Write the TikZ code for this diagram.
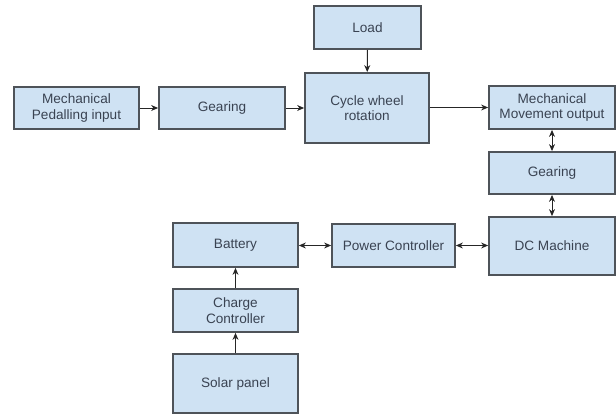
\documentclass[tikz,border=0pt]{standalone}
\usepackage{fontspec}
\setmainfont{Liberation Sans}
\usetikzlibrary{arrows.meta}
\definecolor{boxfill}{HTML}{CFE2F3}
\definecolor{boxline}{HTML}{4E5359}
\definecolor{boxtext}{HTML}{3A4352}
\begin{document}
\begin{tikzpicture}[x=1pt,y=-1pt,
  blk/.style={draw=boxline,line width=1.8pt,fill=boxfill,text=boxtext,
    align=center,inner sep=0pt,font=\fontsize{13.6}{15.5}\selectfont},
  conn/.style={line width=1pt,draw=black!85,-{Stealth[length=7pt,width=6pt]}},
  dconn/.style={line width=1pt,draw=black!85,{Stealth[length=7pt,width=6pt]}-{Stealth[length=7pt,width=6pt]}}]
\useasboundingbox (0,0) rectangle (616,415);
\node[blk,minimum width=125pt,minimum height=42pt] (pedal) at (76.5,108) {Mechanical\\Pedalling input};
\node[blk,minimum width=126pt,minimum height=42pt] (gear1) at (222,108) {Gearing};
\node[blk,minimum width=107pt,minimum height=43pt] (load) at (367.5,27.5) {Load};
\node[blk,minimum width=124pt,minimum height=70pt] (cycle) at (367,108) {Cycle wheel\\rotation};
\node[blk,minimum width=126pt,minimum height=43pt] (mech) at (552,107.5) {Mechanical\\Movement output};
\node[blk,minimum width=126pt,minimum height=42pt] (gear2) at (552,173) {Gearing};
\node[blk,minimum width=126pt,minimum height=58pt] (dc) at (552,246) {DC Machine};
\node[blk,minimum width=123pt,minimum height=43pt] (pc) at (393.5,245.5) {Power Controller};
\node[blk,minimum width=125pt,minimum height=44pt] (batt) at (235.5,245) {Battery};
\node[blk,minimum width=125pt,minimum height=43pt] (charge) at (235.5,310.5) {Charge\\Controller};
\node[blk,minimum width=125pt,minimum height=59pt] (solar) at (235.5,383.5) {Solar panel};
\draw[conn] (pedal) -- (gear1);
\draw[conn] (gear1) -- (gear1 -| cycle.west);
\draw[conn] (load) -- (cycle);
\draw[conn] (cycle.east |- mech) -- (mech);
\draw[dconn] (mech) -- (gear2);
\draw[dconn] (gear2) -- (dc);
\draw[dconn] (pc.east) -- (pc.east -| dc.west);
\draw[dconn] (batt.east |- pc) -- (pc.west);
\draw[conn] (charge) -- (batt);
\draw[conn] (solar) -- (charge);
\end{tikzpicture}
\end{document}
